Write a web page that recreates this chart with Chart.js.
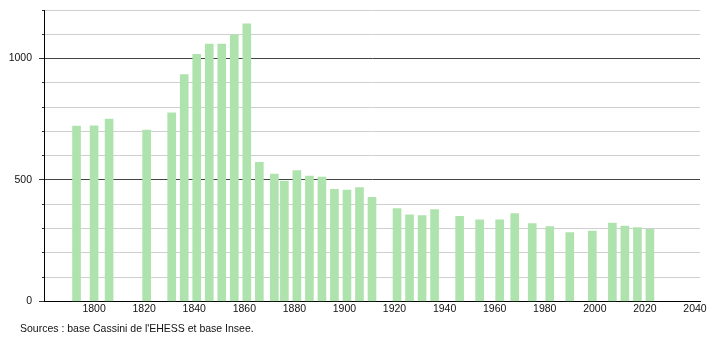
<!DOCTYPE html>
<html>
<head>
<meta charset="utf-8">
<script src="https://cdn.jsdelivr.net/npm/chart.js@4"></script>
<style>
  html, body { margin: 0; padding: 0; background: #fff; }
  #wrap { width: 710px; height: 340px; }
</style>
</head>
<body>
<div id="wrap"><canvas id="c" width="710" height="340"></canvas></div>
<script>
// Census years and population
const years = [1793, 1800, 1806, 1821, 1831, 1836, 1841, 1846, 1851, 1856, 1861, 1866, 1872, 1876, 1881, 1886, 1891, 1896, 1901, 1906, 1911, 1921, 1926, 1931, 1936, 1946, 1954, 1962, 1968, 1975, 1982, 1990, 1999, 2007, 2012, 2017, 2022];
const population = [722, 723, 751, 705, 777, 934, 1017, 1060, 1060, 1098, 1143, 573, 524, 495, 539, 516, 512, 462, 458, 469, 429, 382, 357, 353, 378, 350, 336, 336, 362, 320, 308, 283, 290, 323, 310, 304, 297];
const xTickYears = [1800, 1820, 1840, 1860, 1880, 1900, 1920, 1940, 1960, 1980, 2000, 2020, 2040];
const yTickLabels = [0, 500, 1000];
const sourceText = "Sources : base Cassini de l'EHESS et base Insee.";

const points = years.map((y, i) => ({ x: y, y: population[i] }));
const FONT = "'Liberation Sans', Arial, Helvetica, sans-serif";

const sourcePlugin = {
  id: 'sourceText',
  afterDraw(chart) {
    const ctx = chart.ctx;
    ctx.save();
    ctx.font = '10.5px ' + FONT;
    ctx.fillStyle = '#111';
    ctx.textBaseline = 'middle';
    ctx.textAlign = 'left';
    ctx.fillText(sourceText, 20, 329);
    ctx.restore();
  }
};

new Chart(document.getElementById('c'), {
  type: 'bar',
  data: {
    datasets: [{
      data: points,
      backgroundColor: '#afe3ad',
      borderWidth: 0,
      barThickness: 8
    }]
  },
  plugins: [sourcePlugin],
  options: {
    responsive: false,
    animation: false,
    events: [],
    layout: { padding: { left: 0, top: 10, right: 10, bottom: 24 } },
    plugins: {
      legend: { display: false },
      tooltip: { enabled: false }
    },
    scales: {
      x: {
        type: 'linear',
        offset: false,
        min: 1780,
        max: 2042,
        afterBuildTicks: (scale) => { scale.ticks = xTickYears.map(v => ({ value: v })); },
        afterFit: (scale) => { scale.paddingLeft = 0; scale.paddingRight = 0; },
        grid: { display: false, drawTicks: false },
        border: { display: true, color: '#000', width: 1 },
        ticks: {
          color: '#111',
          padding: 1,
          maxRotation: 0,
          autoSkip: false,
          font: { family: FONT, size: 10.5 },
          callback: (v) => String(v)
        }
      },
      y: {
        min: 0,
        max: 1200,
        afterFit: (scale) => { scale.width = 44; scale.paddingTop = 0; scale.paddingBottom = 0; },
        ticks: {
          stepSize: 100,
          color: '#111',
          padding: 7,
          autoSkip: false,
          font: { family: FONT, size: 10.5 },
          callback: (v) => yTickLabels.includes(v) ? String(v) : ''
        },
        grid: {
          color: (ctx) => (ctx.tick && ctx.tick.value === 0) ? '#000' : ((ctx.tick && ctx.tick.value % 500 === 0) ? '#444' : '#cfcfcf'),
          tickColor: '#333',
          tickLength: 5,
          tickBorderDash: (ctx) => (ctx.tick && ctx.tick.value % 500 === 0) ? [] : [0, 3, 2, 10],
          lineWidth: 1
        },
        border: { display: true, color: '#000', width: 1 }
      }
    }
  }
});
</script>
</body>
</html>
